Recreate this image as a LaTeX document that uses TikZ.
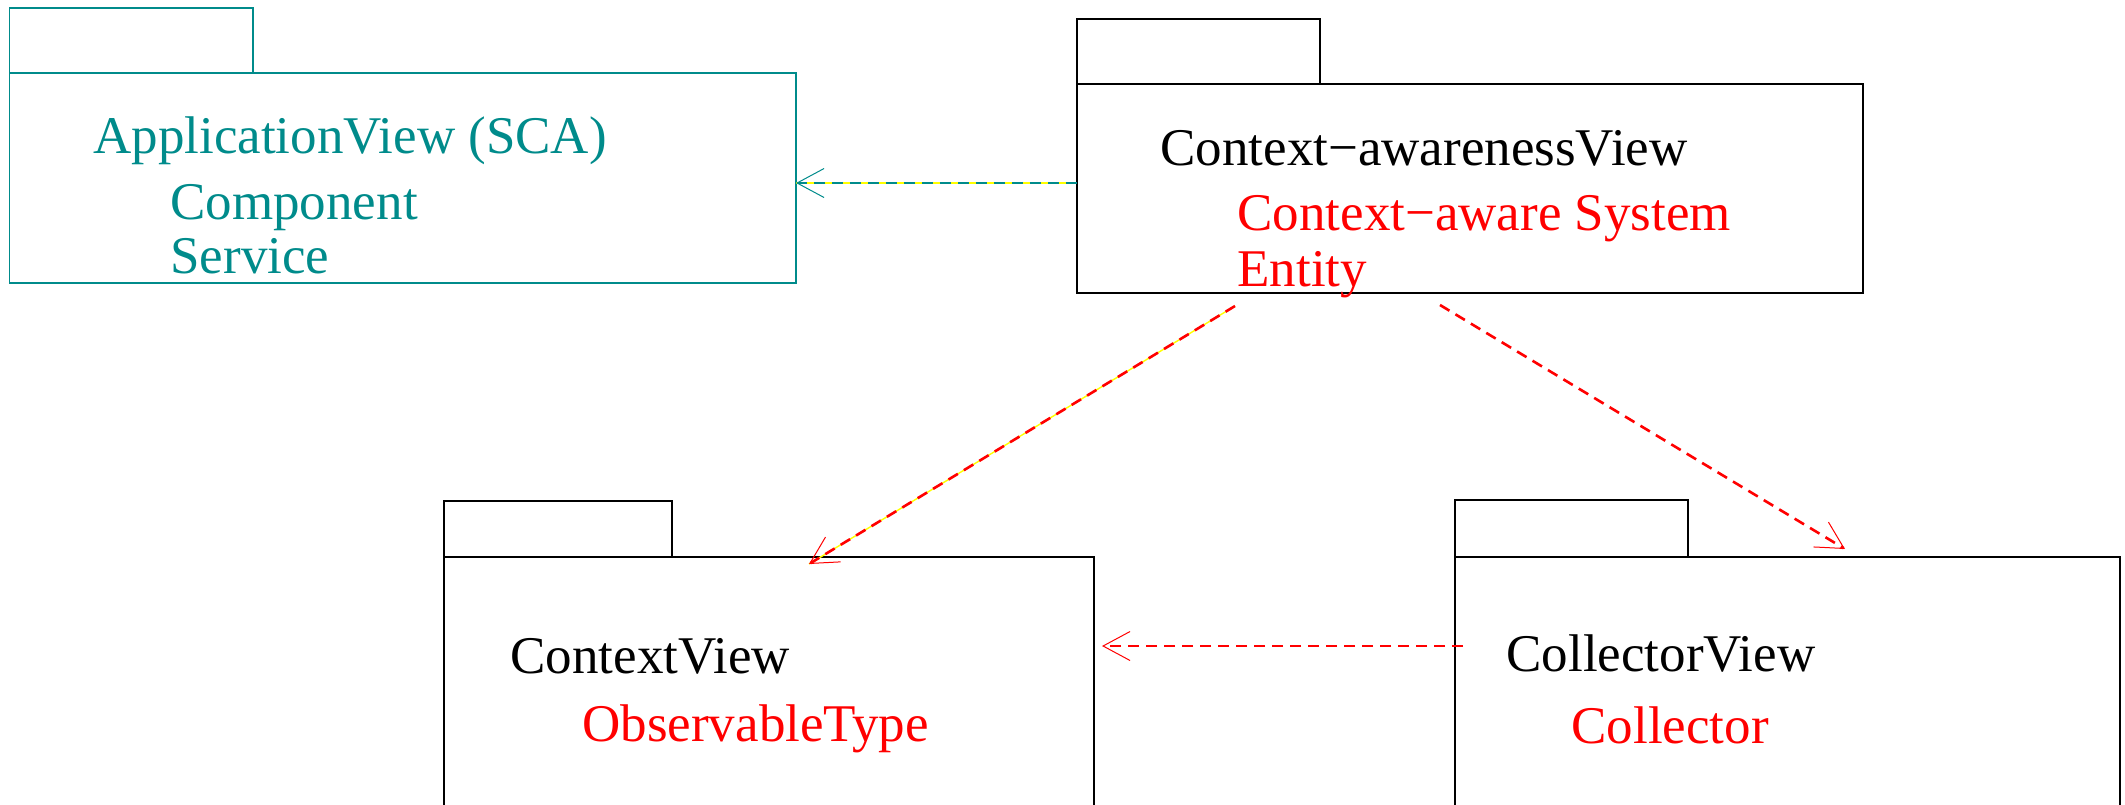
\documentclass[tikz,border=0pt]{standalone}
\usepackage{fontspec}
\setmainfont{Liberation Serif}
\usetikzlibrary{arrows.meta}
\definecolor{viewteal}{RGB}{0,139,139}
\definecolor{viewred}{RGB}{255,0,0}
\definecolor{viewyellow}{RGB}{255,255,0}
\def\Lbl{\fontsize{26.5}{30}\selectfont}

\begin{document}
\begin{tikzpicture}[x=0.5pt,y=0.5pt,yscale=-1,xscale=1,
	pkg/.style={draw, line width=0.6pt, inner sep=0pt, outer sep=0pt, rectangle},
	lbl/.style={anchor=base west, inner sep=0pt, font=\Lbl},
	under/.style={draw=viewyellow, line width=0.7pt},
	dep/.style={line width=1.3pt, dash pattern=on 5.5pt off 3.5pt,
		-{Straight Barb[length=13.5pt,width=14.5pt,line width=0.5pt]}}]
	\useasboundingbox (0,0) rectangle (2125,804);
	% packages
	\node [pkg, draw=viewteal, minimum width=121.75pt, minimum height=32.5pt] (apptab) at (131.25,40.5) {};
	\node [pkg, draw=viewteal, minimum width=393.25pt, minimum height=105pt] (app) at (402.75,178) {};
	\node [pkg, minimum width=121.5pt, minimum height=32.5pt] (catab) at (1198.5,51.5) {};
	\node [pkg, minimum width=393pt, minimum height=104.5pt] (ca) at (1470,188.5) {};
	\node [pkg, minimum width=114pt, minimum height=28pt] (ctxtab) at (558,529) {};
	\node [pkg, minimum width=325pt, minimum height=136.5pt] (ctx) at (769,693.5) {};
	\node [pkg, minimum width=116.5pt, minimum height=28.5pt] (coltab) at (1571.5,528.5) {};
	\node [pkg, minimum width=332.5pt, minimum height=136.5pt] (col) at (1787.5,693.5) {};
	% labels
	\node [lbl, text=viewteal] (apptitle) at (93,153) {ApplicationView (SCA)};
	\node [lbl, text=viewteal] (appcomp) at (170,219) {Component};
	\node [lbl, text=viewteal] (appserv) at (170,273) {Service};
	\node [lbl] (catitle) at (1160,165) {Context−awarenessView};
	\node [lbl, text=viewred] (casys) at (1237,230) {Context−aware System};
	\node [lbl, text=viewred] (caent) at (1237,286) {Entity};
	\node [lbl] (ctxtitle) at (510,673) {ContextView};
	\node [lbl, text=viewred] (ctxobs) at (582,741) {ObservableType};
	\node [lbl] (coltitle) at (1506,671) {CollectorView};
	\node [lbl, text=viewred] (colcoll) at (1571,743) {Collector};
	% dependencies
	\coordinate (d1) at (0,183);
	\coordinate (d2s) at (1235,306);
	\coordinate (d2e) at (809,564);
	\coordinate (d3s) at (1440,305);
	\coordinate (d3e) at (1845,549);
	\coordinate (d4s) at (1463,646);
	\coordinate (d4e) at (1102,646);
	\draw [under] (ca.west |- d1) -- (app.east |- d1);
	\draw [dep, viewteal] (ca.west |- d1) -- (app.east |- d1);
	\draw [under] (d2s) -- (d2e);
	\draw [dep, viewred] (d2s) -- (d2e);
	\draw [dep, viewred] (d3s) -- (d3e);
	\draw [dep, viewred] (d4s) -- (d4e);
\end{tikzpicture}
\end{document}
